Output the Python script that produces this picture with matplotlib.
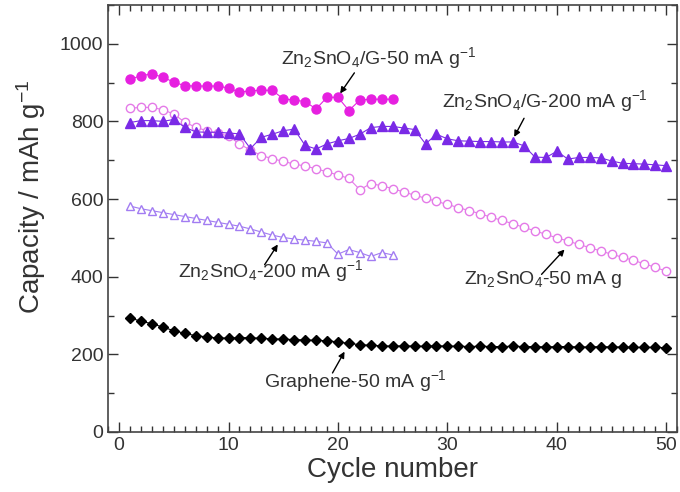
import matplotlib
matplotlib.use("Agg")
import matplotlib.pyplot as plt
from matplotlib.ticker import MultipleLocator
import numpy as np

plt.rcParams['font.family'] = ['Liberation Sans', 'DejaVu Sans']
plt.rcParams['mathtext.fontset'] = 'custom'
plt.rcParams['mathtext.rm'] = 'Liberation Sans'
plt.rcParams['mathtext.it'] = 'Liberation Sans:italic'
plt.rcParams['mathtext.bf'] = 'Liberation Sans:bold'

# ---------------- data ----------------
cycles_50 = list(range(1, 51))
cycles_25 = list(range(1, 26))

zso_g_50 = [908, 918, 922, 914, 901, 892, 891, 891, 891, 886,
            875, 879, 880, 880, 858, 855, 851, 832, 862, 862,
            828, 855, 857, 857, 857]

zso_g_200 = [797, 802, 802, 800, 805, 785, 773, 772, 772, 770,
             768, 730, 759, 767, 776, 780, 738, 729, 742, 750,
             756, 767, 784, 787, 787, 783, 779, 742, 767, 755,
             750, 749, 748, 748, 747, 747, 737, 708, 707, 723,
             703, 707, 707, 706, 698, 692, 691, 690, 688, 686]

zso_50 = [834, 836, 836, 830, 819, 798, 785, 776, 770, 762,
          742, 726, 712, 704, 697, 690, 685, 678, 670, 662,
          653, 624, 640, 634, 627, 618, 610, 602, 594, 586,
          578, 570, 562, 553, 545, 536, 527, 518, 509, 500,
          492, 483, 475, 466, 458, 450, 442, 433, 424, 414]

zso_200 = [582, 575, 570, 565, 560, 555, 550, 545, 540, 535,
           530, 523, 515, 507, 501, 497, 494, 491, 487, 458,
           470, 462, 452, 462, 456]

graphene_50 = [294, 285, 279, 270, 261, 254, 248, 245, 242, 242,
               243, 243, 241, 240, 239, 238, 237, 236, 235, 232,
               228, 225, 223, 222, 221, 222, 221, 221, 222, 221,
               221, 220, 221, 220, 220, 221, 220, 220, 219, 220,
               220, 219, 219, 220, 219, 219, 218, 218, 218, 217]

labels = {
    'g50': r'Zn$_2$SnO$_4$/G-50 mA g$^{-1}$',
    'g200': r'Zn$_2$SnO$_4$/G-200 mA g$^{-1}$',
    'z200': r'Zn$_2$SnO$_4$-200 mA g$^{-1}$',
    'z50': r'Zn$_2$SnO$_4$-50 mA g',
    'gr': r'Graphene-50 mA g$^{-1}$',
}

# ---------------- figure ----------------
fig = plt.figure(figsize=(6.8, 4.92), dpi=100)
ax = fig.add_axes([0.159, 0.122, 0.837, 0.868])

c_mag = '#E620E0'
c_vio = '#7A2AE6'
c_mag_l = '#E47AE8'
c_vio_l = '#A27CF2'

ax.plot(cycles_50, zso_50, '-o', color=c_mag_l, lw=0.8, ms=6,
        mfc='white', mec=c_mag_l, mew=1.0, zorder=2)
ax.plot(cycles_25, zso_200, '-^', color=c_vio_l, lw=0.8, ms=5.5,
        mfc='white', mec=c_vio_l, mew=1.0, zorder=2)
ax.plot(cycles_50, zso_g_200, '-^', color=c_vio, lw=0.8, ms=6.5,
        mfc=c_vio, mec=c_vio, zorder=3)
ax.plot(cycles_25, zso_g_50, '-o', color=c_mag, lw=0.8, ms=6.5,
        mfc=c_mag, mec=c_mag, zorder=3)
ax.plot(cycles_50, graphene_50, '-D', color='black', lw=0.8, ms=5.5,
        mfc='black', mec='black', zorder=3)

ax.set_xlim(-1, 51)
ax.set_ylim(0, 1100)
ax.xaxis.set_major_locator(MultipleLocator(10))
ax.xaxis.set_minor_locator(MultipleLocator(1))
ax.yaxis.set_major_locator(MultipleLocator(200))
ax.yaxis.set_minor_locator(MultipleLocator(100))
ax.tick_params(which='both', direction='in', top=True, right=True,
               colors='#333333', labelsize=14, width=1)
ax.tick_params(which='major', length=7)
ax.tick_params(which='minor', length=4)
for s in ax.spines.values():
    s.set_color('#444444')
    s.set_linewidth(1.2)

ax.set_xlabel('Cycle number', fontsize=20, color='#333333', labelpad=2)
ax.set_ylabel(r'Capacity / mAh g$^{-1}$', fontsize=20, color='#333333')
ax.yaxis.set_label_coords(-0.105, 0.55)

tc = '#333333'
arrow = dict(arrowstyle='-|>', color='black', lw=1.0, mutation_scale=9,
             shrinkA=0, shrinkB=0)

ax.text(14.8, 963, labels['g50'], fontsize=14, color=tc, ha='left', va='center')
ax.annotate('', xy=(20.2, 872), xytext=(21.5, 925), arrowprops=arrow)

ax.text(29.5, 852, labels['g200'], fontsize=14, color=tc, ha='left', va='center')
ax.annotate('', xy=(36.1, 760), xytext=(37.0, 808), arrowprops=arrow)

ax.text(5.4, 414, labels['z200'], fontsize=14, color=tc, ha='left', va='center')
ax.annotate('', xy=(14.5, 483), xytext=(13.3, 431), arrowprops=arrow)

ax.text(31.5, 393, labels['z50'], fontsize=14, color=tc, ha='left', va='center')
ax.annotate('', xy=(40.7, 470), xytext=(38.6, 406), arrowprops=arrow)

ax.text(13.2, 130, labels['gr'], fontsize=14, color=tc, ha='left', va='center')
ax.annotate('', xy=(20.6, 207), xytext=(19.5, 152), arrowprops=arrow)

fig.savefig('out.png', dpi=100)
